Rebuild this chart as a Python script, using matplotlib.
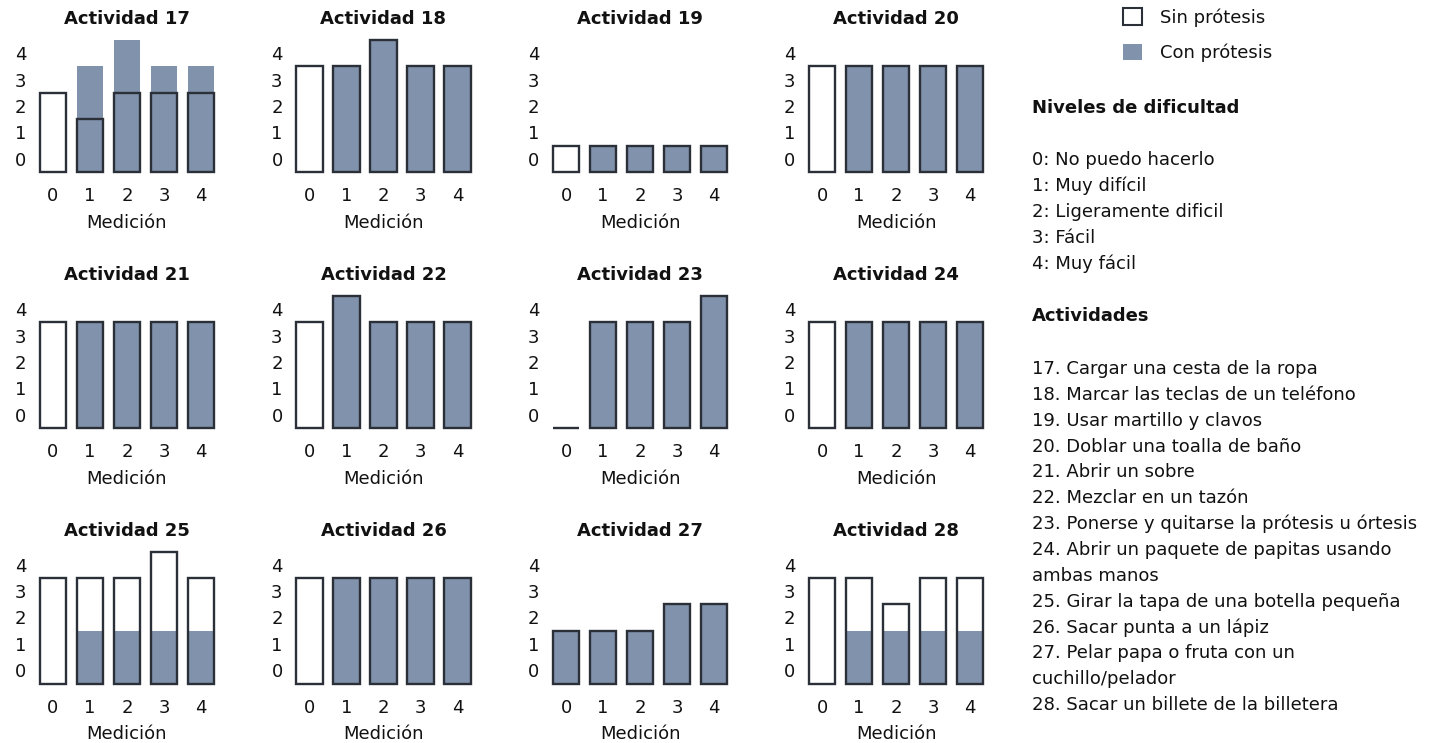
import matplotlib
matplotlib.use("Agg")
import matplotlib.pyplot as plt
from matplotlib.patches import Patch

plt.rcParams['font.family'] = ['DejaVu Sans']

# ---------------- data ----------------
activities = [17, 18, 19, 20, 21, 22, 23, 24, 25, 26, 27, 28]
measurements = [0, 1, 2, 3, 4]
level_ticks = [0, 1, 2, 3, 4]

# difficulty level per measurement (None = no value)
sin_protesis = {
    17: [2, 1, 2, 2, 2],
    18: [3, 3, 4, 3, 3],
    19: [0, 0, 0, 0, 0],
    20: [3, 3, 3, 3, 3],
    21: [3, 3, 3, 3, 3],
    22: [3, 4, 3, 3, 3],
    23: [None, 3, 3, 3, 4],
    24: [3, 3, 3, 3, 3],
    25: [3, 3, 3, 4, 3],
    26: [3, 3, 3, 3, 3],
    27: [1, 1, 1, 2, 2],
    28: [3, 3, 2, 3, 3],
}
con_protesis = {
    17: [None, 3, 4, 3, 3],
    18: [None, 3, 4, 3, 3],
    19: [None, 0, 0, 0, 0],
    20: [None, 3, 3, 3, 3],
    21: [None, 3, 3, 3, 3],
    22: [None, 4, 3, 3, 3],
    23: [None, 3, 3, 3, 4],
    24: [None, 3, 3, 3, 3],
    25: [None, 1, 1, 1, 1],
    26: [None, 3, 3, 3, 3],
    27: [1, 1, 1, 2, 2],
    28: [None, 1, 1, 1, 1],
}

niveles = ["0: No puedo hacerlo", "1: Muy difícil", "2: Ligeramente dificil",
           "3: Fácil", "4: Muy fácil"]
actividades_txt = [
    "17. Cargar una cesta de la ropa",
    "18. Marcar las teclas de un teléfono",
    "19. Usar martillo y clavos",
    "20. Doblar una toalla de baño",
    "21. Abrir un sobre",
    "22. Mezclar en un tazón",
    "23. Ponerse y quitarse la prótesis u órtesis",
    "24. Abrir un paquete de papitas usando",
    "ambas manos",
    "25. Girar la tapa de una botella pequeña",
    "26. Sacar punta a un lápiz",
    "27. Pelar papa o fruta con un",
    "cuchillo/pelador",
    "28. Sacar un billete de la billetera",
]

# ---------------- style ----------------
W, H = 1431, 743
BLUE = '#8192ac'
EDGE = '#2a2f38'
TXT = '#111111'
BW = 0.72
LW = 1.7
FS = 13

fig = plt.figure(figsize=(W / 100, H / 100), dpi=100)

col_left = [34.5, 291, 547.5, 803.5]
row_bottom = [172, 428, 683.5]
ax_w, ax_h = 185, 132

for i, act in enumerate(activities):
    r, c = divmod(i, 4)
    ax = fig.add_axes([col_left[c] / W, (H - row_bottom[r]) / H, ax_w / W, ax_h / H])
    sin = sin_protesis[act]
    con = con_protesis[act]
    sin_h = [0 if v is None else v + 1 for v in sin]
    con_x = [m for m, v in zip(measurements, con) if v is not None]
    con_h = [v + 1 for v in con if v is not None]
    ax.bar(measurements, sin_h, width=BW, color='white', linewidth=0, zorder=1, clip_on=False)
    ax.bar(con_x, con_h, width=BW, color=BLUE, linewidth=0, zorder=2, clip_on=False)
    ax.bar(measurements, sin_h, width=BW, facecolor='none', edgecolor=EDGE,
           linewidth=LW, zorder=3, clip_on=False)
    ax.set_xlim(-0.5, 4.5)
    ax.set_ylim(0, 5)
    ax.set_xticks(measurements)
    ax.set_xticklabels([str(m) for m in measurements])
    ax.set_yticks([t + 0.5 for t in level_ticks])
    ax.set_yticklabels([str(t) for t in level_ticks])
    ax.tick_params(length=0, labelsize=FS, colors=TXT)
    ax.tick_params(axis='x', pad=11)
    ax.tick_params(axis='y', pad=6)
    for s in ax.spines.values():
        s.set_visible(False)
    ax.set_facecolor('none')
    ax.set_title(f"Actividad {act}", fontsize=FS, fontweight='bold', color=TXT, pad=11.5)
    ax.set_xlabel("Medición", fontsize=FS, color=TXT, labelpad=6)

# legend
handles = [Patch(facecolor='white', edgecolor=EDGE, linewidth=1.5, label='Sin prótesis'),
           Patch(facecolor=BLUE, edgecolor='none', label='Con prótesis')]
fig.legend(handles=handles, loc='upper left', bbox_to_anchor=(1123 / W, 1 - 8 / H),
           frameon=False, fontsize=FS, handlelength=1.05, handleheight=1.05,
           handletextpad=1.0, labelspacing=0.95, borderpad=0, borderaxespad=0,
           labelcolor=TXT)

# text blocks
x0 = 1032 / W
fig.text(x0, 1 - 108 / H, "Niveles de dificultad", fontsize=FS, fontweight='bold',
         color=TXT, va='center', ha='left')
for k, line in enumerate(niveles):
    fig.text(x0, 1 - (160 + 25.9 * k) / H, line, fontsize=FS, color=TXT, va='center', ha='left')
fig.text(x0, 1 - 316 / H, "Actividades", fontsize=FS, fontweight='bold',
         color=TXT, va='center', ha='left')
for k, line in enumerate(actividades_txt):
    fig.text(x0, 1 - (369 + 25.85 * k) / H, line, fontsize=FS, color=TXT, va='center', ha='left')

fig.savefig("out.png", dpi=100, facecolor='white')
